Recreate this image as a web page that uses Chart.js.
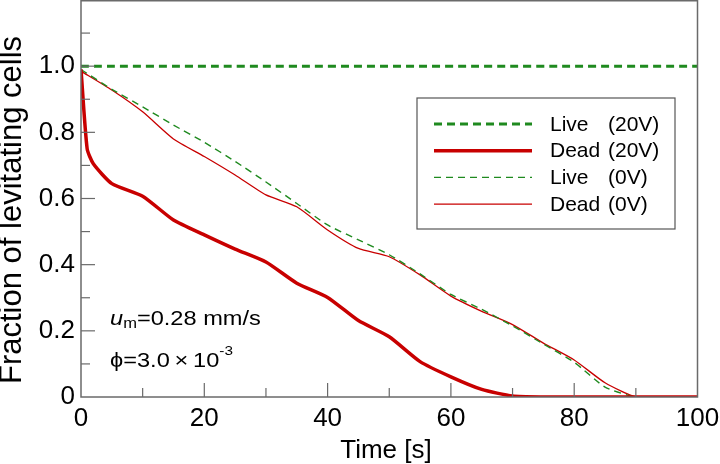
<!DOCTYPE html>
<html>
<head>
<meta charset="utf-8">
<script src="https://cdn.jsdelivr.net/npm/chart.js@4"></script>
<style>
  body { margin: 0; background: #fff; }
  #wrap { width: 720px; height: 464px; }
</style>
</head>
<body>
<div id="wrap"><canvas id="mycanvas" width="720" height="464"></canvas></div>
<script>
// data
var timeLive20 = [0, 100];
var live20 = [1.0, 1.0];

var timeDead20 = [0, 1, 2, 5, 10, 15, 20, 25, 30, 35, 40, 45, 50, 55, 60, 65, 70, 75, 80, 85, 90, 95, 100];
var dead20 = [0.99, 0.75, 0.705, 0.645, 0.607, 0.535, 0.49, 0.447, 0.408, 0.344, 0.301, 0.231, 0.182, 0.107, 0.061, 0.023, 0.003, 0, 0, 0, 0, 0, 0];

var time0 = [0, 5, 10, 15, 20, 25, 30, 35, 40, 45, 50, 55, 60, 65, 70, 75, 80, 85, 90, 95, 100];
var live0 = [0.99, 0.93, 0.877, 0.822, 0.77, 0.712, 0.65, 0.585, 0.52, 0.475, 0.43, 0.372, 0.31, 0.265, 0.215, 0.16, 0.105, 0.03, 0, 0, 0];
var dead0 = [0.985, 0.928, 0.862, 0.78, 0.727, 0.671, 0.611, 0.575, 0.505, 0.449, 0.424, 0.369, 0.305, 0.259, 0.219, 0.163, 0.112, 0.043, 0, 0, 0];

var yTicks = [0, 0.2, 0.4, 0.6, 0.8, 1.0];
var legendLabels = ['Live', 'Dead', 'Live', 'Dead'];
var legendVolts = ['(20V)', '(20V)', '(0V)', '(0V)'];

var green = '#1f8a1f';
var red = '#c80000';
var axisGray = '#6a6a6a';
var font = "'Liberation Sans', Arial, sans-serif";

function pts(xs, ys) {
  var out = [];
  for (var i = 0; i < xs.length; i++) out.push({x: xs[i], y: ys[i]});
  return out;
}

var datasets = [
  {label: 'Live (20V)', data: pts(timeLive20, live20), borderColor: green, borderWidth: 3, borderDash: [8, 5]},
  {label: 'Dead (20V)', data: pts(timeDead20, dead20), borderColor: red, borderWidth: 3.5},
  {label: 'Live (0V)', data: pts(time0, live0), borderColor: green, borderWidth: 1.4, borderDash: [7, 5]},
  {label: 'Dead (0V)', data: pts(time0, dead0), borderColor: red, borderWidth: 1.3}
];

// frame, inward ticks, titles, legend box and the two notes
var extras = {
  id: 'extras',
  afterDraw: function(chart) {
    var c = chart.ctx, a = chart.chartArea;
    var xs = chart.scales.x, ys = chart.scales.y;
    c.save();
    c.strokeStyle = axisGray;
    c.lineWidth = 1.5;
    c.strokeRect(a.left, a.top + 0.75, a.right - a.left, a.bottom - a.top - 0.75);
    c.lineWidth = 1.2;
    for (var t = 10; t < 100; t += 10) {
      var px = xs.getPixelForValue(t);
      var len = (t % 20 === 0) ? 14 : 9;
      c.beginPath(); c.moveTo(px, a.bottom); c.lineTo(px, a.bottom - len); c.stroke();
    }
    for (var k = 1; k < 12; k++) {
      var py = ys.getPixelForValue(k / 10);
      var len2 = (k % 2 === 0) ? 14 : 9;
      c.beginPath(); c.moveTo(a.left, py); c.lineTo(a.left + len2, py); c.stroke();
    }

    // axis titles
    c.fillStyle = '#000';
    c.font = '26px ' + font;
    c.textAlign = 'center';
    c.textBaseline = 'alphabetic';
    c.fillText('Time [s]', 386, 458);
    c.save();
    c.translate(21, 210);
    c.rotate(-Math.PI / 2);
    c.font = '31px ' + font;
    c.fillText('Fraction of levitating cells', 0, 0);
    c.restore();
    c.textAlign = 'left';

    // legend
    var bx = 417, by = 98, bw = 258, bh = 131;
    c.fillStyle = '#fff';
    c.fillRect(bx, by, bw, bh);
    c.strokeStyle = '#555';
    c.lineWidth = 1.2;
    c.strokeRect(bx, by, bw, bh);
    c.font = '21px ' + font;
    c.textBaseline = 'middle';
    c.fillStyle = '#000';
    for (var i = 0; i < datasets.length; i++) {
      var d = datasets[i];
      var ry = 124 + i * 26.7;
      c.strokeStyle = d.borderColor;
      c.lineWidth = d.borderWidth;
      c.setLineDash(d.borderDash || []);
      c.beginPath(); c.moveTo(434, ry); c.lineTo(532, ry); c.stroke();
      c.setLineDash([]);
      c.fillText(legendLabels[i], 550, ry + 1);
      c.fillText(legendVolts[i], 608, ry + 1);
    }

    // notes (text in the figure is a bit wider than the font)
    c.textBaseline = 'alphabetic';
    c.save();
    c.translate(110, 0);
    c.scale(1.18, 1);
    c.font = 'italic 20px ' + font;
    c.fillText('u', 0, 325);
    var w = c.measureText('u').width;
    c.font = '14px ' + font;
    c.fillText('m', w, 328);
    var w2 = c.measureText('m').width;
    c.font = '20px ' + font;
    c.fillText('=0.28 mm/s', w + w2, 325);

    var s = '\u03d5=3.0\u2009\u00d7\u200910';
    c.fillText(s, 0, 367);
    var w3 = c.measureText(s).width;
    c.font = '13px ' + font;
    c.fillText('-3', w3, 355);
    c.restore();
    c.restore();
  }
};

var ctx = document.getElementById('mycanvas');
var chart = new Chart(ctx, {
  type: 'line',
  data: {datasets: datasets},
  options: {
    responsive: false,
    animation: false,
    events: [],
    layout: {padding: {top: 0, right: 22.5, left: 0, bottom: 0}},
    elements: {point: {radius: 0}, line: {tension: 0.2, fill: false}},
    plugins: {legend: {display: false}, tooltip: {enabled: false}},
    scales: {
      x: {
        type: 'linear', min: 0, max: 100,
        ticks: {stepSize: 20, color: '#000', font: {family: font, size: 26}, padding: 6, maxRotation: 0},
        grid: {display: false, drawTicks: false, tickLength: 0},
        border: {display: false},
        afterFit: function(axis) {
          axis.height = 67;
          axis.paddingLeft = 0; axis.paddingRight = 0;
        }
      },
      y: {
        min: 0, max: 1.2,
        afterBuildTicks: function(axis) {
          axis.ticks = yTicks.map(function(v) { return {value: v}; });
        },
        ticks: {
          color: '#000', font: {family: font, size: 26}, padding: 6,
          callback: function(v) { return v === 0 ? '0' : v.toFixed(1); }
        },
        grid: {display: false, drawTicks: false, tickLength: 0},
        border: {display: false},
        afterFit: function(axis) {
          axis.width = 81;
          axis.paddingTop = 0; axis.paddingBottom = 0;
        }
      }
    }
  },
  plugins: [extras]
});
</script>
</body>
</html>
